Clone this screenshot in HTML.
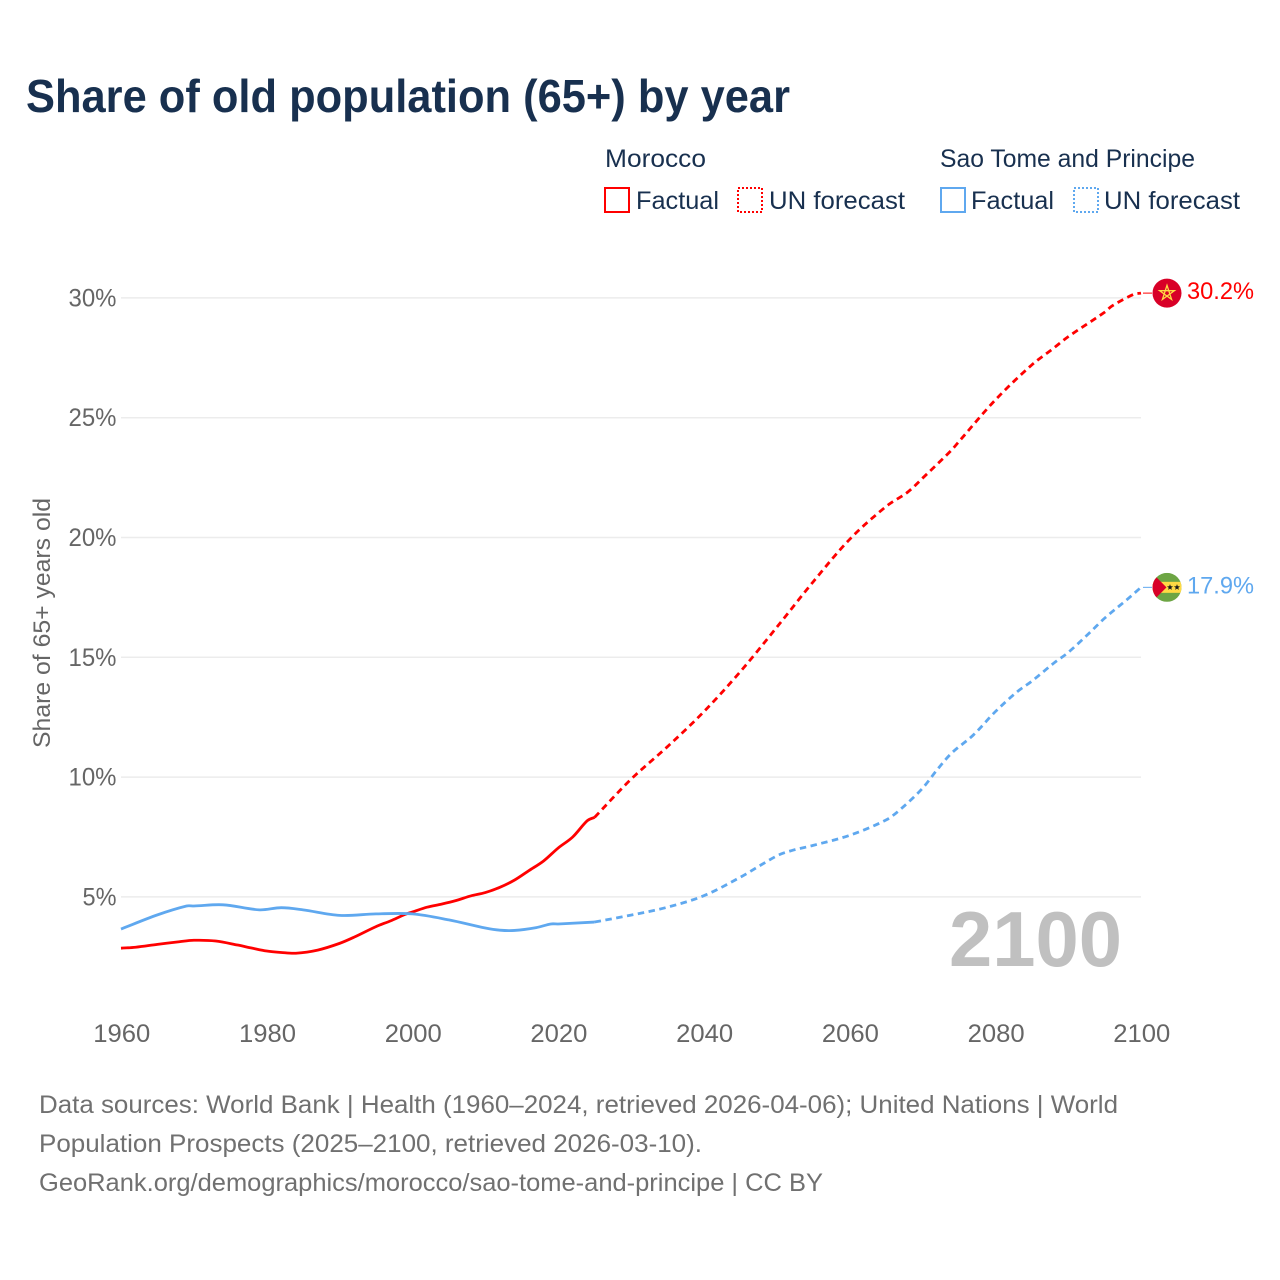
<!DOCTYPE html>
<html lang="en">
<head>
<meta charset="utf-8">
<title>Share of old population (65+) by year</title>
<style>
  html, body { margin: 0; padding: 0; background: #fff; }
  svg { display: block; }
  text { font-family: "Liberation Sans", sans-serif; }
</style>
</head>
<body>
<svg id="chart" xmlns="http://www.w3.org/2000/svg" width="1280" height="1280" viewBox="0 0 1280 1280">
  <rect x="0" y="0" width="1280" height="1280" fill="#ffffff"/>
  <text x="26" y="112" font-size="46" font-weight="700" fill="#18304f" textLength="764" lengthAdjust="spacingAndGlyphs">Share of old population (65+) by year</text>

  <g>
    <text x="605" y="167" font-size="25" fill="#18304f" textLength="101" lengthAdjust="spacingAndGlyphs">Morocco</text>
    <rect x="605" y="188" width="24" height="24" fill="none" stroke="#ff0000" stroke-width="2"/>
    <text x="636" y="209" font-size="25" fill="#18304f" textLength="83" lengthAdjust="spacingAndGlyphs">Factual</text>
    <rect x="738" y="188" width="24" height="24" fill="none" stroke="#ff0000" stroke-width="2" stroke-dasharray="2 2"/>
    <text x="769" y="209" font-size="25" fill="#18304f" textLength="136" lengthAdjust="spacingAndGlyphs">UN forecast</text>

    <text x="940" y="167" font-size="25" fill="#18304f" textLength="255" lengthAdjust="spacingAndGlyphs">Sao Tome and Principe</text>
    <rect x="941" y="188" width="24" height="24" fill="none" stroke="#5fa8ef" stroke-width="2"/>
    <text x="971" y="209" font-size="25" fill="#18304f" textLength="83" lengthAdjust="spacingAndGlyphs">Factual</text>
    <rect x="1074" y="188" width="24" height="24" fill="none" stroke="#5fa8ef" stroke-width="2" stroke-dasharray="2 2"/>
    <text x="1104" y="209" font-size="25" fill="#18304f" textLength="136" lengthAdjust="spacingAndGlyphs">UN forecast</text>
  </g>

  <g id="grid"></g>
  <g id="yticks"></g>
  <g id="xticks"></g>

  <text transform="translate(50,623) rotate(-90)" text-anchor="middle" font-size="24.5" fill="#666666" textLength="250" lengthAdjust="spacingAndGlyphs">Share of 65+ years old</text>

  <text x="949" y="966" font-size="78" font-weight="700" fill="#c0c0c0" textLength="173" lengthAdjust="spacingAndGlyphs">2100</text>

  <g id="series"></g>
  <g id="markers"></g>

  <g>
    <text x="39" y="1113" font-size="25" fill="#707070" textLength="1079" lengthAdjust="spacingAndGlyphs">Data sources: World Bank | Health (1960–2024, retrieved 2026-04-06); United Nations | World</text>
    <text x="39" y="1152" font-size="25" fill="#707070" textLength="663" lengthAdjust="spacingAndGlyphs">Population Prospects (2025–2100, retrieved 2026-03-10).</text>
    <text x="39" y="1191" font-size="25" fill="#707070" textLength="784" lengthAdjust="spacingAndGlyphs">GeoRank.org/demographics/morocco/sao-tome-and-principe | CC BY</text>
  </g>
</svg>

<script>
const xTickYears = [1960, 1980, 2000, 2020, 2040, 2060, 2080, 2100];
const yTickValues = [5, 10, 15, 20, 25, 30];

const moroccoFactualYears = [1960, 1962, 1965, 1968, 1970, 1973, 1976, 1978, 1980, 1982, 1984, 1987, 1990, 1992, 1995, 1997, 1999, 2000, 2002, 2004, 2006, 2008, 2010, 2012, 2014, 2016, 2018, 2020, 2022, 2024, 2025];
const moroccoFactualValues = [2.86, 2.90, 3.02, 3.13, 3.19, 3.16, 2.99, 2.86, 2.74, 2.68, 2.65, 2.78, 3.06, 3.32, 3.76, 4.00, 4.27, 4.37, 4.57, 4.70, 4.85, 5.04, 5.18, 5.40, 5.70, 6.10, 6.50, 7.04, 7.50, 8.18, 8.32];

const moroccoForecastYears = [2025, 2030, 2035, 2040, 2045, 2050, 2055, 2060, 2065, 2068, 2070, 2074, 2075, 2080, 2085, 2088, 2090, 2095, 2096, 2099, 2100];
const moroccoForecastValues = [8.32, 9.91, 11.27, 12.73, 14.40, 16.25, 18.15, 19.92, 21.29, 21.90, 22.47, 23.65, 24.00, 25.74, 27.20, 27.90, 28.38, 29.40, 29.66, 30.15, 30.20];

const saoTomeFactualYears = [1960, 1965, 1969, 1970, 1974, 1979, 1982, 1985, 1990, 1995, 2000, 2005, 2010, 2012, 2014, 2017, 2019, 2020, 2025];
const saoTomeFactualValues = [3.66, 4.25, 4.62, 4.62, 4.67, 4.46, 4.55, 4.46, 4.23, 4.29, 4.29, 4.04, 3.70, 3.61, 3.60, 3.72, 3.87, 3.87, 3.95];

const saoTomeForecastYears = [2025, 2030, 2035, 2040, 2045, 2050, 2052, 2055, 2060, 2065, 2067, 2070, 2072, 2074, 2077, 2080, 2083, 2085, 2088, 2090, 2093, 2095, 2098, 2100];
const saoTomeForecastValues = [3.95, 4.24, 4.57, 5.05, 5.82, 6.71, 6.93, 7.15, 7.57, 8.21, 8.66, 9.53, 10.30, 11.00, 11.76, 12.73, 13.56, 14.00, 14.75, 15.20, 16.04, 16.63, 17.39, 17.92];

const NS = 'http://www.w3.org/2000/svg';
const RED = '#ff0000';
const BLUE = '#5fa8ef';

function xScale(year) { return 121 + (year - 1960) * (1020 / 140); }
function yScale(value) { return 896.9 - (value - 5) * 23.96; }

function make(tag, attrs, parent) {
  const el = document.createElementNS(NS, tag);
  for (const k in attrs) el.setAttribute(k, attrs[k]);
  parent.appendChild(el);
  return el;
}

const gridGroup = document.getElementById('grid');
const yTickGroup = document.getElementById('yticks');
yTickValues.forEach(function (v) {
  const line = make('line', { x1: 121, x2: 1141, y1: yScale(v), y2: yScale(v), stroke: '#ececec', 'stroke-width': 1.5 }, gridGroup);
  
  
  const label = make('text', { x: 116.5, y: yScale(v) + 8.5, 'text-anchor': 'end', 'font-size': 25, fill: '#666666', textLength: v < 10 ? 34 : 48, lengthAdjust: 'spacingAndGlyphs' }, yTickGroup);
  
  
  label.textContent = v + '%';
});

const xTickGroup = document.getElementById('xticks');
xTickYears.forEach(function (yr) {
  const label = make('text', { x: xScale(yr) + 0.8, y: 1042, 'text-anchor': 'middle', 'font-size': 25, fill: '#666666', textLength: 57, lengthAdjust: 'spacingAndGlyphs' }, xTickGroup);
  
  
  label.textContent = yr;
});

function linePath(years, values) {
  const pts = years.map(function (yr, i) { return [xScale(yr), yScale(values[i])]; });
  let d = 'M' + pts[0][0].toFixed(2) + ' ' + pts[0][1].toFixed(2);
  for (let i = 0; i < pts.length - 1; i++) {
    const p0 = pts[Math.max(i - 1, 0)];
    const p1 = pts[i];
    const p2 = pts[i + 1];
    const p3 = pts[Math.min(i + 2, pts.length - 1)];
    const h = p2[0] - p1[0];
    const s1 = (p2[1] - p0[1]) / (p2[0] - p0[0]);
    const s2 = (p3[1] - p1[1]) / (p3[0] - p1[0]);
    d += ' C' + (p1[0] + h / 3).toFixed(2) + ' ' + (p1[1] + s1 * h / 3).toFixed(2) +
         ' ' + (p2[0] - h / 3).toFixed(2) + ' ' + (p2[1] - s2 * h / 3).toFixed(2) +
         ' ' + p2[0].toFixed(2) + ' ' + p2[1].toFixed(2);
  }
  return d;
}

const seriesGroup = document.getElementById('series');

const saoTomeForecastLine = make('path', { d: linePath(saoTomeForecastYears, saoTomeForecastValues), fill: 'none', stroke: BLUE, 'stroke-width': 2.8, 'stroke-dasharray': '6.5 4.5', 'stroke-linejoin': 'round' }, seriesGroup);



const moroccoForecastLine = make('path', { d: linePath(moroccoForecastYears, moroccoForecastValues), fill: 'none', stroke: RED, 'stroke-width': 2.8, 'stroke-dasharray': '6.5 4.5', 'stroke-linejoin': 'round' }, seriesGroup);



const moroccoFactualLine = make('path', { d: linePath(moroccoFactualYears, moroccoFactualValues), fill: 'none', stroke: RED, 'stroke-width': 2.8, 'stroke-linejoin': 'round' }, seriesGroup);



const saoTomeFactualLine = make('path', { d: linePath(saoTomeFactualYears, saoTomeFactualValues), fill: 'none', stroke: BLUE, 'stroke-width': 2.8, 'stroke-linejoin': 'round' }, seriesGroup);



function starPoints(cx, cy, r) {
  const pts = [];
  for (let i = 0; i < 10; i++) {
    const rad = i % 2 ? r * 0.42 : r;
    const a = -Math.PI / 2 + i * Math.PI / 5;
    pts.push((cx + rad * Math.cos(a)).toFixed(2) + ',' + (cy + rad * Math.sin(a)).toFixed(2));
  }
  return pts.join(' ');
}

function pentagramPoints(cx, cy, r) {
  const pts = [];
  for (let i = 0; i < 5; i++) {
    const a = -Math.PI / 2 + i * 4 * Math.PI / 5;
    pts.push((cx + r * Math.cos(a)).toFixed(2) + ',' + (cy + r * Math.sin(a)).toFixed(2));
  }
  return pts.join(' ');
}

const markerGroup = document.getElementById('markers');
const MARKER_X = 1167;
const MARKER_R = 14.5;

const moroccoEnd = yScale(moroccoForecastValues[moroccoForecastValues.length - 1]);
const saoTomeEnd = yScale(saoTomeForecastValues[saoTomeForecastValues.length - 1]);

const moroccoConnector = make('line', { x1: 1143, x2: 1152, y1: moroccoEnd, y2: moroccoEnd, stroke: RED, 'stroke-width': 1 }, markerGroup);



const saoTomeConnector = make('line', { x1: 1143, x2: 1152, y1: saoTomeEnd, y2: saoTomeEnd, stroke: BLUE, 'stroke-width': 1 }, markerGroup);



/* Morocco flag */
const moroccoFlag = make('g', {}, markerGroup);


make('circle', { cx: MARKER_X, cy: moroccoEnd, r: MARKER_R, fill: '#d80027' }, moroccoFlag);
make('polygon', { points: pentagramPoints(MARKER_X, moroccoEnd, 7.8), fill: 'none', stroke: '#ffda44', 'stroke-width': 1.3 }, moroccoFlag);

/* Sao Tome flag */
const defs = make('defs', {}, markerGroup);
const clip = make('clipPath', { id: 'stp-clip' }, defs);
make('circle', { cx: MARKER_X, cy: saoTomeEnd, r: MARKER_R }, clip);
const saoTomeFlag = make('g', { 'clip-path': 'url(#stp-clip)' }, markerGroup);


make('rect', { x: MARKER_X - MARKER_R, y: saoTomeEnd - MARKER_R, width: MARKER_R * 2, height: MARKER_R * 2, fill: '#6da544' }, saoTomeFlag);
make('rect', { x: MARKER_X - MARKER_R, y: saoTomeEnd - 5.5, width: MARKER_R * 2, height: 11, fill: '#ffda44' }, saoTomeFlag);
make('polygon', { points: (MARKER_X - MARKER_R) + ',' + (saoTomeEnd - 14) + ' ' + (MARKER_X - 0.5) + ',' + saoTomeEnd + ' ' + (MARKER_X - MARKER_R) + ',' + (saoTomeEnd + 14), fill: '#d80027' }, saoTomeFlag);
make('polygon', { points: starPoints(MARKER_X + 3, saoTomeEnd, 3.2), fill: '#1a1a1a' }, saoTomeFlag);
make('polygon', { points: starPoints(MARKER_X + 10, saoTomeEnd, 3.2), fill: '#1a1a1a' }, saoTomeFlag);

const moroccoValueLabel = make('text', { x: 1187, y: moroccoEnd + 6, 'font-size': 24.5, fill: RED, textLength: 67, lengthAdjust: 'spacingAndGlyphs' }, markerGroup);


moroccoValueLabel.textContent = moroccoForecastValues[moroccoForecastValues.length - 1].toFixed(1) + '%';

const saoTomeValueLabel = make('text', { x: 1187, y: saoTomeEnd + 6, 'font-size': 24.5, fill: BLUE, textLength: 67, lengthAdjust: 'spacingAndGlyphs' }, markerGroup);


saoTomeValueLabel.textContent = saoTomeForecastValues[saoTomeForecastValues.length - 1].toFixed(1) + '%';
</script>
</body>
</html>
